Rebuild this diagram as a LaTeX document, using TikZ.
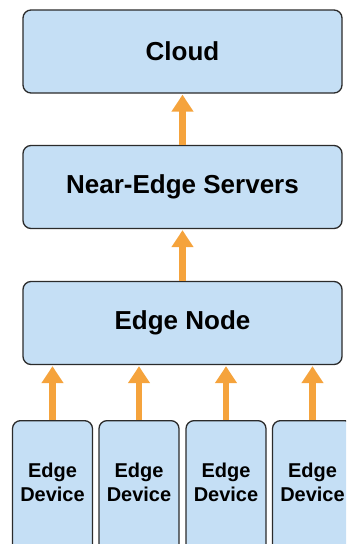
\documentclass[tikz,border=0pt]{standalone}
\usepackage{fontspec}
\setmainfont{Liberation Sans}
\usetikzlibrary{arrows.meta}
\definecolor{boxfill}{HTML}{C5DFF5}
\definecolor{boxline}{HTML}{2B2B2B}
\definecolor{flow}{HTML}{F5A33C}
\tikzset{
  tier/.style={draw=boxline, fill=boxfill, line width=1.3pt, rounded corners=8pt,
    minimum width=319pt, minimum height=83pt, inner sep=0pt,
    font=\bfseries\fontsize{26}{31}\selectfont},
  device/.style={draw=boxline, fill=boxfill, line width=1.3pt, rounded corners=8pt,
    minimum width=80pt, minimum height=140pt, inner sep=0pt, anchor=north,
    align=center, font=\bfseries\fontsize{20}{24}\selectfont},
  devtext/.style={align=center, inner sep=0pt, font=\bfseries\fontsize{20}{24}\selectfont},
  up/.style={draw=flow, line width=6.5pt,
    -{Triangle[width=21pt,length=17pt]}, shorten >=1pt}
}
\begin{document}
\begin{tikzpicture}[x=1pt,y=-1pt]
  \useasboundingbox (0,0) rectangle (346,544);
  \clip (0,0) rectangle (346,544);
  % hierarchy tiers
  \node[tier] (cloud) at (182.5,51.5) {Cloud};
  \node[tier] (near)  at (182.5,187)  {Near-Edge Servers};
  \node[tier] (edge)  at (182.5,323)  {Edge Node};
  % devices along the bottom (boxes run past the lower edge)
  \foreach \n/\x in {d1/52.5, d2/139, d3/226, d4/312.5} {
    \node[device] (\n) at (\x,420) {};
    \node[devtext] (\n t) at (\x,482) {Edge\\Device};
  }
  % upward data flow
  \draw[up] (near.north) -- (cloud.south);
  \draw[up] (edge.north) -- (near.south);
  \foreach \d in {d1,d2,d3,d4}
    \draw[up] (\d.north) -- (\d.north |- edge.south);
\end{tikzpicture}
\end{document}
